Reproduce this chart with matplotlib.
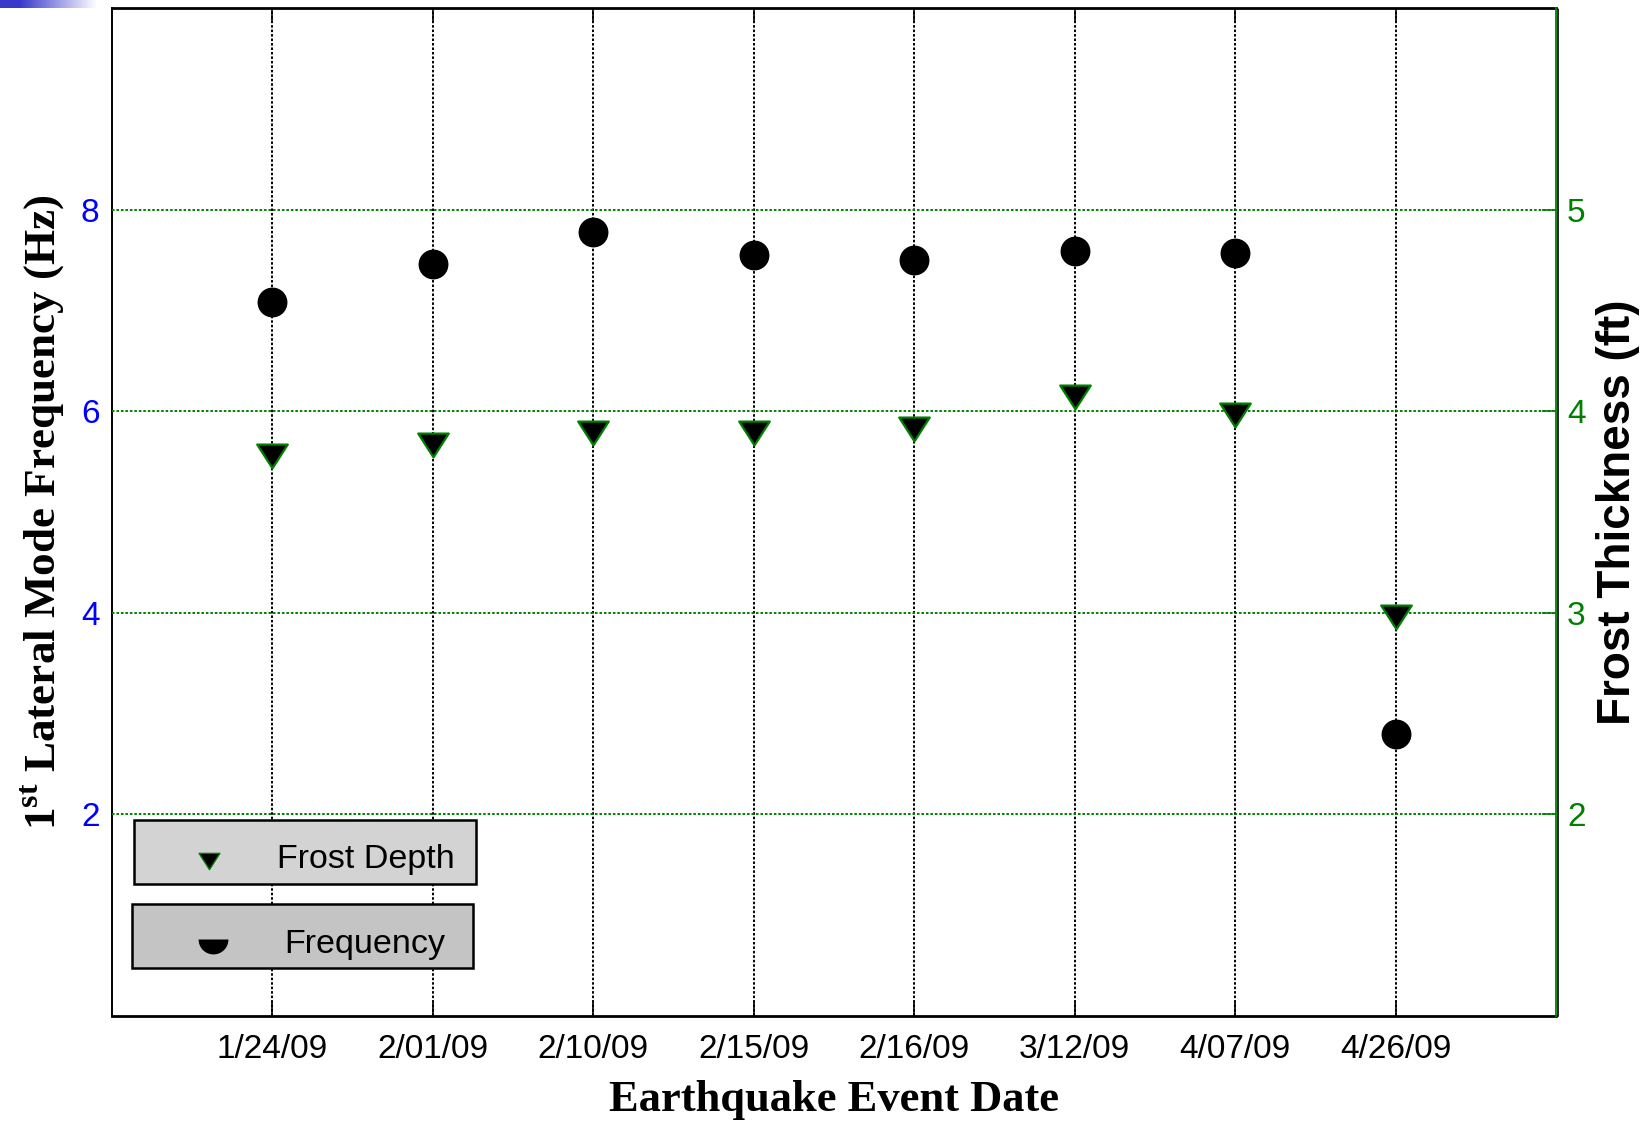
import matplotlib.pyplot as plt
import numpy as np
from matplotlib.path import Path
from matplotlib.patches import Rectangle

plt.rcParams['font.family'] = 'Liberation Sans'
plt.rcParams['mathtext.fontset'] = 'custom'
plt.rcParams['mathtext.rm'] = 'Liberation Serif:bold'

# Earthquake events
dates = ["1/24/09", "2/01/09", "2/10/09", "2/15/09", "2/16/09", "3/12/09", "4/07/09", "4/26/09"]
# 1st lateral mode frequency (Hz)
frequency = [7.08, 7.46, 7.78, 7.55, 7.50, 7.59, 7.57, 2.80]
# Frost thickness (ft)
frost_depth = [3.78, 3.83, 3.89, 3.89, 3.91, 4.07, 3.98, 2.98]

left_ticks = [2, 4, 6, 8]
right_ticks = [2, 3, 4, 5]

GREEN = '#008000'
dotted = (0, (1.3, 1.0))

# wide, flat down-pointing triangle
tri = Path([(-1, 0.78), (1, 0.78), (0, -0.78), (-1, 0.78)],
           [Path.MOVETO, Path.LINETO, Path.LINETO, Path.CLOSEPOLY])

fig = plt.figure(figsize=(16.5, 11.22), dpi=100)
ax = fig.add_axes([112 / 1650, 1 - 1016 / 1122, 1444 / 1650, 1008 / 1122])
ax2 = ax.twinx()

x = np.arange(1, len(dates) + 1)

ax.plot(x, frequency, ls='none', marker='o', ms=20.5, mfc='black', mec='black', mew=1, zorder=3)
ax2.plot(x, frost_depth, ls='none', marker=tri, ms=22, mfc='black', mec=GREEN, mew=1.6, zorder=3)

ax.set_xlim(0, 9)
ax.set_ylim(0, 10)
ax2.set_ylim(1, 6)
ax.set_xticks(x, dates)
ax.set_yticks(left_ticks)
ax2.set_yticks(right_ticks)

# grids: black dotted verticals, green dotted horizontals
ax.grid(axis='x', color='black', linestyle=dotted, linewidth=1.4)
ax.grid(axis='y', visible=False)
ax2.grid(axis='y', color=GREEN, linestyle=dotted, linewidth=1.4)

# spines
ax.spines['left'].set_linestyle(dotted)
ax.spines['left'].set_linewidth(1.4)
ax.spines['right'].set_linestyle(dotted)
ax.spines['right'].set_linewidth(1.2)
ax.spines['right'].set_position(('outward', 1.5))
ax.spines['top'].set_linewidth(2.0)
ax.spines['bottom'].set_linewidth(2.0)
for side in ['left', 'top', 'bottom']:
    ax2.spines[side].set_visible(False)
ax2.spines['right'].set_color(GREEN)
ax2.spines['right'].set_linewidth(1.3)

ax.tick_params(axis='x', direction='in', length=10, width=1.2, top=True, labelsize=24, pad=13)
ax.tick_params(axis='y', length=0, labelcolor='blue', labelsize=24, pad=9)
ax2.tick_params(axis='y', direction='in', length=10, width=1.2, color=GREEN,
                labelcolor=GREEN, labelsize=24, pad=8)

# axis labels
ax.set_xlabel('Earthquake Event Date', fontfamily='Liberation Serif', fontweight='bold',
              fontsize=32, va='center')
ax.xaxis.set_label_coords(0.5, -0.0835)
ax.set_ylabel(r'1$^{\mathrm{st}}$ Lateral Mode Frequency (Hz)', fontfamily='Liberation Serif',
              fontweight='bold', fontsize=32.5, va='center')
ax.yaxis.set_label_coords(-0.0485, 0.5)
ax2.set_ylabel('Frost Thickness (ft)', fontweight='bold', fontsize=33, rotation=90, va='center')
ax2.yaxis.set_label_coords(1.0426, 0.5)

# legend boxes
ax2.add_patch(Rectangle((0.0152, 0.131), 0.237, 0.0635, transform=ax2.transAxes,
                        facecolor='#d3d3d3', edgecolor='black', lw=1.8, zorder=5))
ax2.add_patch(Rectangle((0.0139, 0.0476), 0.236, 0.0635, transform=ax2.transAxes,
                        facecolor='#c4c4c4', edgecolor='black', lw=1.8, zorder=5))
ax2.plot([0.0672], [0.1538], transform=ax2.transAxes, ls='none', marker=tri, ms=15,
         mfc='black', mec=GREEN, mew=1, zorder=6)
ax2.plot([0.0699], [0.0764], transform=ax2.transAxes, ls='none', marker='o', ms=21.5,
         fillstyle='bottom', mfc='black', mec='none', zorder=6)
ax2.text(0.1143, 0.1468, 'Frost Depth', transform=ax2.transAxes, fontsize=24.5,
         ha='left', va='baseline', zorder=7)
ax2.text(0.1191, 0.0625, 'Frequency', transform=ax2.transAxes, fontsize=24.5,
         ha='left', va='baseline', zorder=7)

# blue bar in the top-left corner
bar = fig.add_axes([0, 1 - 8 / 1122, 97 / 1650, 8 / 1122])
t = np.clip((np.linspace(0, 1, 200) - 0.2) / 0.8, 0, 1)
start = np.array([0.22, 0.22, 0.80])
rgb = start[None, :] * (1 - t[:, None]) + t[:, None]
bar.imshow(rgb[None, :, :], aspect='auto')
bar.axis('off')

fig.savefig('out.png', dpi=100)
